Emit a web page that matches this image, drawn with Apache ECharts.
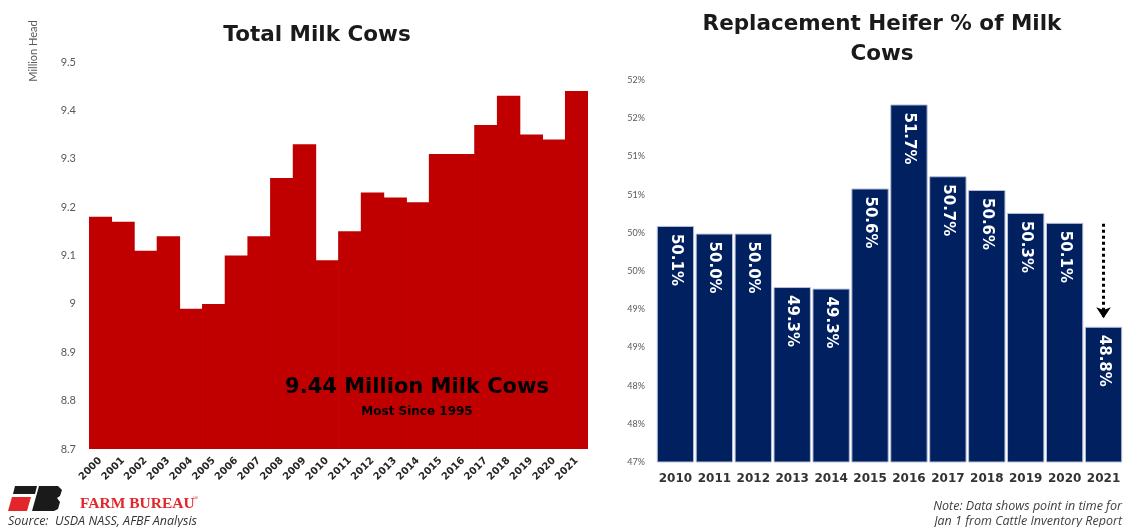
<!DOCTYPE html>
<html>
<head>
<meta charset="utf-8">
<script src="https://cdn.jsdelivr.net/npm/echarts@6/dist/echarts.min.js"></script>
<style>
  html, body { margin: 0; padding: 0; background: #fff; }
  #chart { width: 1126px; height: 527px; }
</style>
</head>
<body>
<div id="chart"></div>
<script>
// left panel: total milk cows (million head)
const cowYears = ['2000','2001','2002','2003','2004','2005','2006','2007','2008','2009','2010',
                  '2011','2012','2013','2014','2015','2016','2017','2018','2019','2020','2021'];
const cowValues = [9.18, 9.17, 9.11, 9.14, 8.99, 9.00, 9.10, 9.14, 9.26, 9.33, 9.09,
                   9.15, 9.23, 9.22, 9.21, 9.31, 9.31, 9.37, 9.43, 9.35, 9.34, 9.44];
const cowTicks = { min: 8.7, max: 9.5, step: 0.1 };

// right panel: replacement heifers as % of milk cows
const heiferYears = ['2010','2011','2012','2013','2014','2015','2016','2017','2018','2019','2020','2021'];
const heiferValues = [50.09, 49.99, 49.99, 49.29, 49.27, 50.58, 51.68, 50.74, 50.56, 50.26, 50.13, 48.77];
const heiferTicks = { min: 47, max: 52, step: 0.5 };
const arrowFrom = 50.12, arrowTo = 48.88;

const FONT = 'DejaVu Sans';
const RED = '#c00000', NAVY = '#002060';

var chart = echarts.init(document.getElementById('chart'));
chart.setOption({
  animation: false,
  backgroundColor: '#fff',
  textStyle: { fontFamily: FONT },
  title: [
    {
      text: 'Total Milk Cows', left: 312, top: 19, textAlign: 'center',
      textStyle: { fontSize: 21.5, fontWeight: 'bold', color: '#1a1a1a', fontFamily: FONT }
    },
    {
      text: 'Replacement Heifer % of Milk\nCows', left: 877, top: 4, textAlign: 'center',
      textStyle: { fontSize: 21.5, fontWeight: 'bold', color: '#1a1a1a', lineHeight: 30, fontFamily: FONT }
    }
  ],
  grid: [
    { left: 89, top: 62, width: 499, height: 387 },
    { left: 656, top: 80, width: 467, height: 382 }
  ],
  xAxis: [
    {
      type: 'category', gridIndex: 0, data: cowYears,
      axisLine: { show: false }, axisTick: { show: false },
      axisLabel: { rotate: 45, interval: 0, fontSize: 10, fontWeight: 'bold', color: '#262626', margin: 10 }
    },
    {
      type: 'category', gridIndex: 1, data: heiferYears,
      axisLine: { show: false }, axisTick: { show: false },
      axisLabel: { interval: 0, fontSize: 12, fontWeight: 'bold', color: '#333', margin: 11 }
    }
  ],
  yAxis: [
    {
      type: 'value', gridIndex: 0, min: cowTicks.min, max: cowTicks.max, interval: cowTicks.step,
      splitLine: { show: false }, axisLine: { show: false }, axisTick: { show: false },
      axisLabel: { fontSize: 11, color: '#595959', margin: 13, fontFamily: 'Lato',
        formatter: v => String(+v.toFixed(1)) }
    },
    {
      type: 'value', gridIndex: 1, min: heiferTicks.min, max: heiferTicks.max, interval: heiferTicks.step,
      splitLine: { show: false }, axisLine: { show: false }, axisTick: { show: false },
      axisLabel: { fontSize: 9, color: '#595959', margin: 11, fontFamily: 'Lato',
        formatter: v => Math.round(v + 1e-9) + '%' }
    }
  ],
  series: [
    {
      type: 'bar', xAxisIndex: 0, yAxisIndex: 0, data: cowValues,
      barWidth: 23.4,
      itemStyle: { color: RED }
    },
    {
      type: 'bar', xAxisIndex: 1, yAxisIndex: 1, data: heiferValues,
      barCategoryGap: '4%',
      itemStyle: { color: NAVY, borderColor: '#b8c0d8', borderWidth: 1 },
      label: {
        show: true, position: 'insideTop', distance: 8, rotate: -90,
        align: 'left', verticalAlign: 'middle',
        color: '#fff', fontSize: 15, fontWeight: 'bold',
        formatter: p => p.value.toFixed(1) + '%'
      },
      markLine: {
        silent: true, symbol: ['none', 'arrow'], symbolSize: 11,
        label: { show: false },
        lineStyle: { type: 'dotted', color: '#000', width: 3 },
        data: [[{ coord: ['2021', arrowFrom] }, { coord: ['2021', arrowTo] }]]
      }
    }
  ],
  graphic: [
    { type: 'text', x: 33, y: 51, rotation: Math.PI / 2, z: 100,
      style: { text: 'Million Head', fontSize: 11, fill: '#595959', fontFamily: 'Lato', align: 'center', verticalAlign: 'middle' } },
    { type: 'text', x: 417, y: 388, z: 100,
      style: { text: '9.44 Million Milk Cows', fontSize: 21, fontWeight: 'bold', fill: '#000', fontFamily: FONT, align: 'center', verticalAlign: 'middle' } },
    { type: 'text', x: 417, y: 412, z: 100,
      style: { text: 'Most Since 1995', fontSize: 12, fontWeight: 'bold', fill: '#000', fontFamily: FONT, align: 'center', verticalAlign: 'middle' } },
    // farm bureau logo
    { type: 'polygon', shape: { points: [[15,486],[37,486],[35,494],[13,494]] }, style: { fill: '#1a1a1a' } },
    { type: 'polygon', shape: { points: [[12,497],[31,497],[27,511],[8,511]] }, style: { fill: '#e3262b' } },
    { type: 'polygon', shape: { points: [[39,486],[58,486],[62,490],[60,496],[57,498],[60,502],[58,509],[54,511],[32,511]] }, style: { fill: '#1a1a1a' } },
    { type: 'text', x: 80, y: 504,
      style: { text: 'FARM BUREAU', fontSize: 15.5, fontWeight: 'bold', fill: '#e3262b', fontFamily: 'Liberation Serif', verticalAlign: 'middle' } },
    { type: 'text', x: 193, y: 498,
      style: { text: '®', fontSize: 7, fill: '#e3262b', fontFamily: 'Liberation Serif', verticalAlign: 'middle' } },
    { type: 'text', x: 8, y: 521,
      style: { text: 'Source:  USDA NASS, AFBF Analysis', fontSize: 12.5, fontStyle: 'italic', fill: '#333', fontFamily: 'Open Sans', verticalAlign: 'middle' } },
    { type: 'text', x: 1122, y: 506,
      style: { text: 'Note: Data shows point in time for', fontSize: 12.5, fontStyle: 'italic', fill: '#404040', fontFamily: 'Open Sans', align: 'right', verticalAlign: 'middle' } },
    { type: 'text', x: 1122, y: 521,
      style: { text: 'Jan 1 from Cattle Inventory Report', fontSize: 12.5, fontStyle: 'italic', fill: '#404040', fontFamily: 'Open Sans', align: 'right', verticalAlign: 'middle' } }
  ]
});
</script>
</body>
</html>
